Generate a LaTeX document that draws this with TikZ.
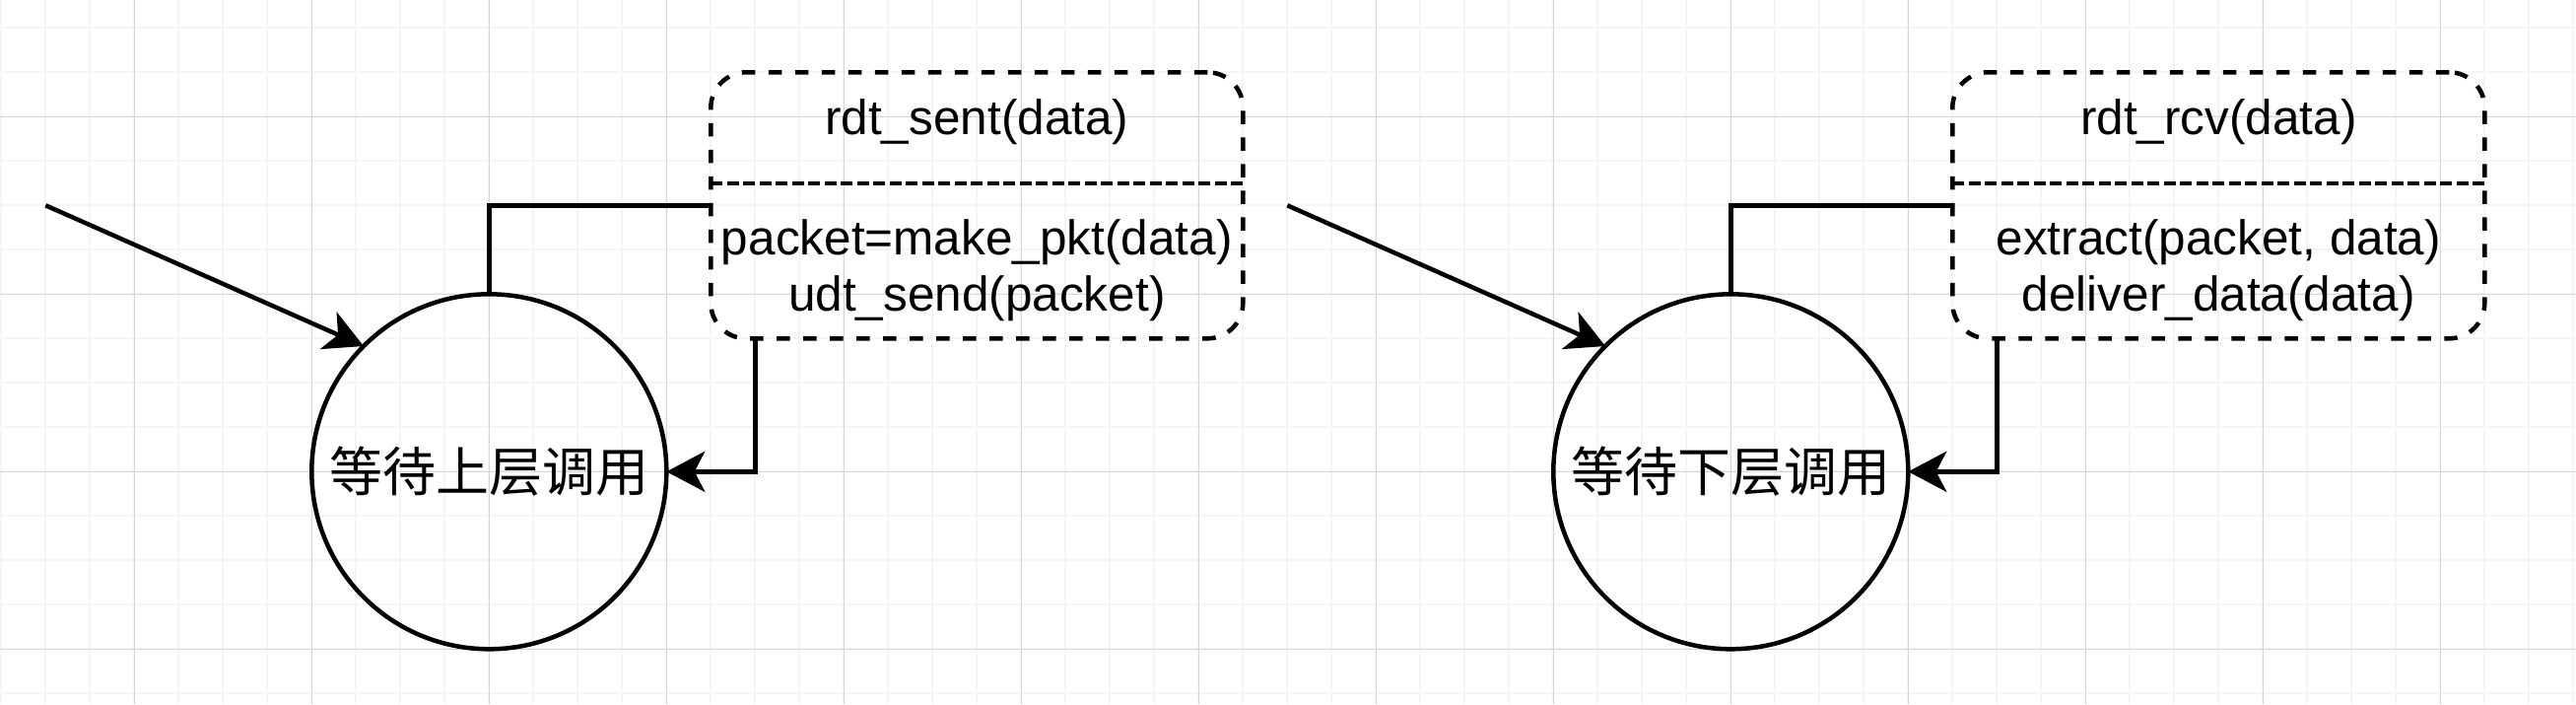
\documentclass[tikz,border=0pt]{standalone}
\usepackage{fontspec}
\setmainfont{Liberation Sans}
\newfontfamily\cjk{Noto Sans CJK SC}
\usetikzlibrary{arrows.meta}
\begin{document}
\begin{tikzpicture}[x=0.5pt,y=-0.5pt,
  minorg/.style={draw=black!4, line width=1pt},
  majorg/.style={draw=black!16, line width=0.5pt},
  state/.style={circle,draw,line width=2.25pt,minimum size=180pt,inner sep=0pt,outer sep=0pt,
    font=\cjk\fontsize{27}{32}\selectfont},
  actbox/.style={rectangle,rounded corners=18pt,draw,line width=2.25pt,
    dash pattern=on 6.75pt off 6.75pt,minimum width=270pt,minimum height=135pt,
    inner sep=0pt,outer sep=0pt},
  divider/.style={line width=1.8pt,dash pattern=on 6pt off 2.25pt},
  lbl/.style={anchor=base,inner sep=0pt,font=\fontsize{24.75}{29}\selectfont},
  conn/.style={line width=2.25pt},
  arr/.style={conn,-{Stealth[length=19.5pt,width=20.5pt,inset=5.3pt]}}
]
\useasboundingbox (0,0) rectangle (2614,714);
\fill[white] (0,0) rectangle (2614,714);
% grid
\foreach \k in {0,...,58} \draw[minorg] ({1.3+45*\k},0) -- ({1.3+45*\k},714);
\foreach \k in {0,...,15} \draw[minorg] (0,{28.3+45*\k}) -- (2614,{28.3+45*\k});
\foreach \k in {0,...,13} \draw[majorg] ({136.3+180*\k},0) -- ({136.3+180*\k},714);
\foreach \k in {0,...,3} \draw[majorg] (0,{118.3+180*\k}) -- (2614,{118.3+180*\k});

% ---- left machine ----
\node[state] (c1) at (496.3,478.3) {等待上层调用};
\node[actbox] (box1) at (991.3,208.3) {};
\draw[divider] (721.3,185.8) -- (1261.3,185.8);
\node[lbl] (h1) at (991.3,136) {rdt\_sent(data)};
\node[lbl] (a1) at (991.3,258) {packet=make\_pkt(data)};
\node[lbl] (b1) at (991.3,315) {udt\_send(packet)};
\coordinate (s1) at (46.3,208.3);
\coordinate (o1) at (766.3,343.3);
\draw[arr] (s1) -- (c1.135);
\draw[conn] (c1.north) |- (box1.west);
\draw[arr] (o1) |- (c1.east);

% ---- right machine ----
\node[state] (c2) at (1756.3,478.3) {等待下层调用};
\node[actbox] (box2) at (2251.3,208.3) {};
\draw[divider] (1981.3,185.8) -- (2521.3,185.8);
\node[lbl] (h2) at (2251.3,136) {rdt\_rcv(data)};
\node[lbl] (a2) at (2251.3,258) {extract(packet, data)};
\node[lbl] (b2) at (2251.3,315) {deliver\_data(data)};
\coordinate (s2) at (1306.3,208.3);
\coordinate (o2) at (2026.3,343.3);
\draw[arr] (s2) -- (c2.135);
\draw[conn] (c2.north) |- (box2.west);
\draw[arr] (o2) |- (c2.east);
\end{tikzpicture}
\end{document}
